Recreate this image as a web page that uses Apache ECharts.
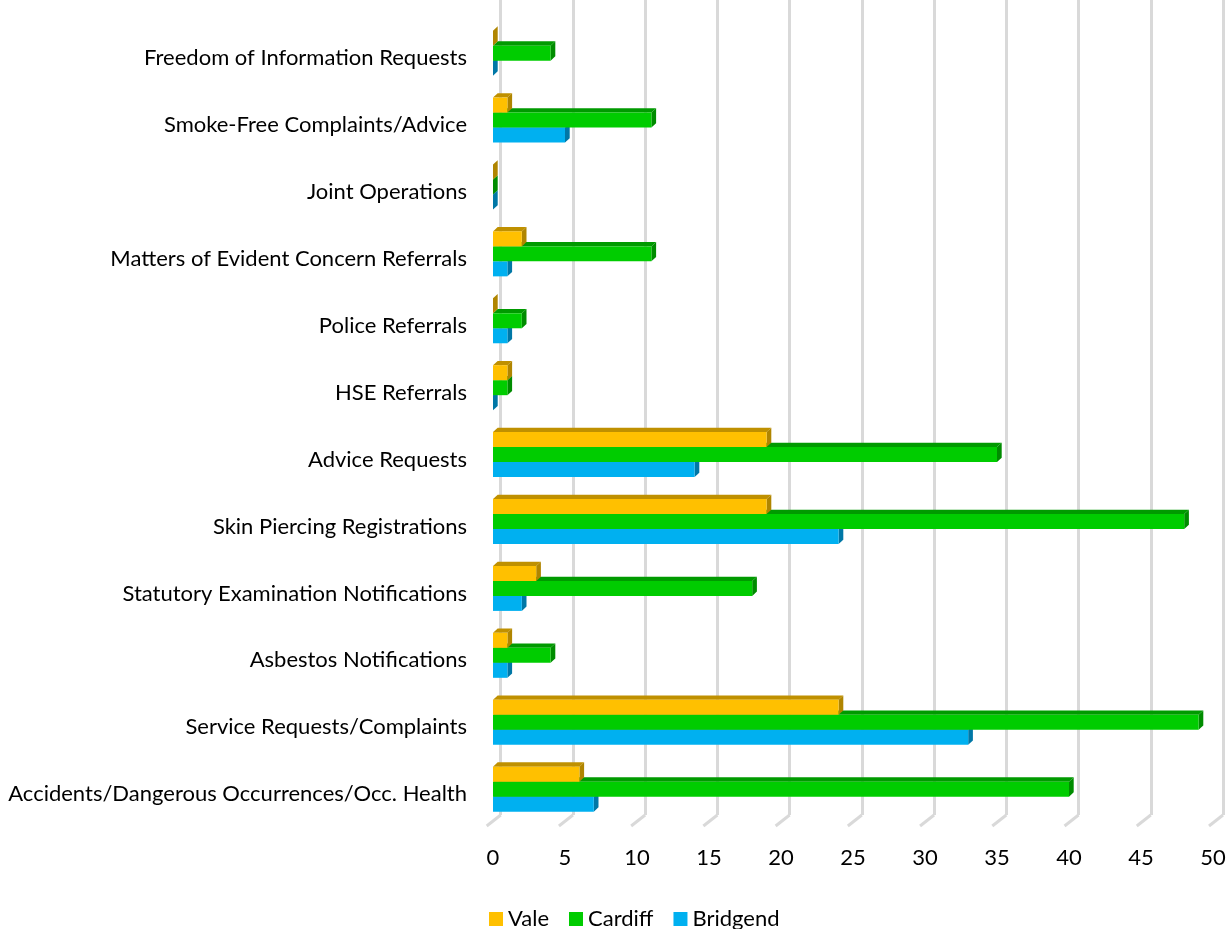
<!DOCTYPE html>
<html><head><meta charset="utf-8">
<script src="https://cdn.jsdelivr.net/npm/echarts@6/dist/echarts.min.js"></script>
<style>html,body{margin:0;padding:0;background:#fff}#c{width:1232px;height:929px}</style>
</head><body><div id="c"></div>
<script>
var categories = [
  "Accidents/Dangerous Occurrences/Occ. Health",
  "Service Requests/Complaints",
  "Asbestos Notifications",
  "Statutory Examination Notifications",
  "Skin Piercing Registrations",
  "Advice Requests",
  "HSE Referrals",
  "Police Referrals",
  "Matters of Evident Concern Referrals",
  "Joint Operations",
  "Smoke-Free Complaints/Advice",
  "Freedom of Information Requests"
];
var vale     = [6, 24, 1, 3, 19, 19, 1, 0, 2, 0, 1, 0];
var cardiff  = [40, 49, 4, 18, 48, 35, 1, 2, 11, 0, 11, 4];
var bridgend = [7, 33, 1, 2, 24, 14, 0, 1, 1, 0, 5, 0];
var ticks = [0, 5, 10, 15, 20, 25, 30, 35, 40, 45, 50];

var FONT = 'Lato';
var DX = 4.7, DY = 4.3;

function makeRender(idx, front, top, side) {
  return function (params, api) {
    var cat = api.value(1), val = api.value(0);
    var p0 = api.coord([0, cat]);
    var p1 = api.coord([val, cat]);
    var band = api.size([0, 1])[1];
    var h = band * 0.224;
    var yc = p0[1] + (idx - 1) * h;
    var yt = yc - h / 2, yb = yc + h / 2;
    var x0 = p0[0], x1 = p1[0];
    return {
      type: 'group',
      children: [
        {type: 'polygon', shape: {points: [[x0, yt], [x0 + DX, yt - DY], [x1 + DX, yt - DY], [x1, yt]]}, style: {fill: top}},
        {type: 'polygon', shape: {points: [[x1, yt], [x1 + DX, yt - DY], [x1 + DX, yb - DY], [x1, yb]]}, style: {fill: side}},
        {type: 'rect', shape: {x: x0, y: yt, width: Math.max(0, x1 - x0), height: h}, style: {fill: front}}
      ]
    };
  };
}

function seriesData(arr) {
  return arr.map(function (v, i) { return [v, i]; });
}

var chart = echarts.init(document.getElementById('c'), null, {renderer: 'canvas'});
chart.setOption({
  animation: false,
  backgroundColor: '#ffffff',
  textStyle: {fontFamily: FONT},
  legend: {
    data: [{name: 'Vale', icon: 'rect'}, {name: 'Cardiff', icon: 'rect'}, {name: 'Bridgend', icon: 'rect'}],
    left: 484, bottom: -6,
    itemWidth: 14, itemHeight: 14, itemGap: 20,
    textStyle: {fontSize: 22, color: '#000', fontFamily: FONT}
  },
  grid: [
    {left: 493, right: 19, top: 19.7, bottom: 106.4, containLabel: false},
    {left: 500.7, right: 9, top: 0, bottom: 114, containLabel: false}
  ],
  xAxis: [
    {type: 'value', gridIndex: 0, min: 0, max: 50, interval: 5,
     axisLine: {show: false}, axisTick: {show: false}, splitLine: {show: false},
     axisLabel: {fontSize: 22, color: '#000', margin: 24, fontFamily: FONT, formatter: function (v) { return String(v); }}},
    {type: 'value', gridIndex: 1, min: 0, max: 50, interval: 5,
     axisLine: {show: false}, axisTick: {show: false}, axisLabel: {show: false},
     splitLine: {show: true, lineStyle: {color: '#d9d9d9', width: 3}}}
  ],
  yAxis: [
    {type: 'category', gridIndex: 0, data: categories,
     axisLine: {show: false}, axisTick: {show: false}, splitLine: {show: false},
     axisLabel: {color: '#000', margin: 26, fontFamily: FONT,
       formatter: function (v) { return '{a|' + v + '}'; },
       rich: {a: {fontSize: 22, color: '#000', fontFamily: FONT, padding: [10, 0, 0, 0]}}}},
    {type: 'value', gridIndex: 1, min: 0, max: 1, show: false}
  ],
  series: [
    {name: 'Feet', type: 'custom', xAxisIndex: 1, yAxisIndex: 1, z: 1, silent: true,
     data: ticks.map(function (t) { return [t, 0]; }),
     renderItem: function (params, api) {
       var p = api.coord([api.value(0), 0]);
       return {type: 'line', shape: {x1: p[0], y1: p[1], x2: p[0] - 14, y2: p[1] + 11},
               style: {stroke: '#d9d9d9', lineWidth: 3}};
     }},
    {name: 'Bridgend', type: 'custom', z: 3, itemStyle: {color: '#00B0F0'},
     encode: {x: 0, y: 1}, data: seriesData(bridgend),
     renderItem: makeRender(2, '#00B0F0', '#0082B3', '#0077A6')},
    {name: 'Cardiff', type: 'custom', z: 4, itemStyle: {color: '#00CC00'},
     encode: {x: 0, y: 1}, data: seriesData(cardiff),
     renderItem: makeRender(1, '#00CC00', '#009A00', '#008C00')},
    {name: 'Vale', type: 'custom', z: 5, itemStyle: {color: '#FFC000'},
     encode: {x: 0, y: 1}, data: seriesData(vale),
     renderItem: makeRender(0, '#FFC000', '#BF9000', '#B08500')}
  ]
});
</script>
</body></html>
